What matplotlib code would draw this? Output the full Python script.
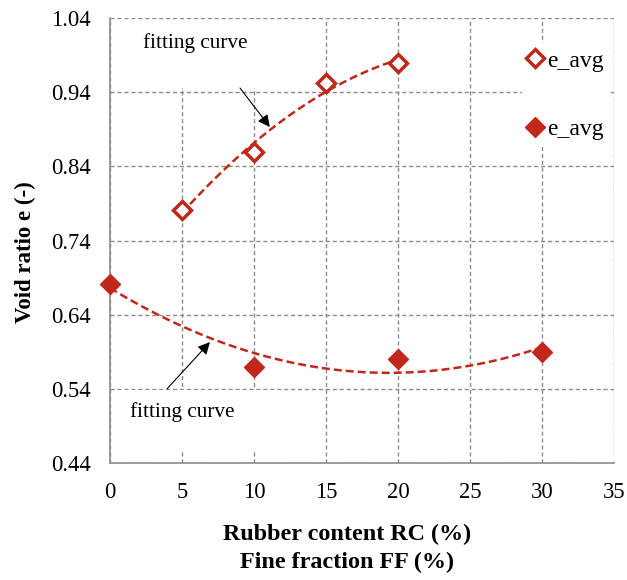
import numpy as np
import matplotlib
matplotlib.use("Agg")
import matplotlib.pyplot as plt
from matplotlib.patches import Rectangle

# Data
x_open = [5, 10, 15, 20]
e_open = [0.781, 0.860, 0.952, 0.980]
x_fill = [0, 10, 20, 30]
e_fill = [0.682, 0.570, 0.580, 0.590]
x_ticks = [0, 5, 10, 15, 20, 25, 30, 35]
y_ticks = [0.44, 0.54, 0.64, 0.74, 0.84, 0.94, 1.04]
label_open = "e_avg"
label_fill = "e_avg"

red = "#C0281C"
grid_c = "#8c8c8c"

plt.rcParams['font.family'] = ['Liberation Serif', 'DejaVu Serif']

W, H = 627, 580
fig = plt.figure(figsize=(W/100, H/100), dpi=100)
ax = fig.add_axes([110/W, 1-463/H, (614-110)/W, (463-18)/H])

ax.set_xlim(0, 35)
ax.set_ylim(0.44, 1.04)
ax.set_xticks(x_ticks)
ax.set_yticks(y_ticks)
ax.set_yticklabels([f"{v:.2f}" for v in y_ticks])
ax.tick_params(length=0, labelsize=16.3, pad=14)
ax.grid(True, color=grid_c, linestyle=(0, (3, 2)), linewidth=1)
ax.set_axisbelow(True)
for s in ['top', 'right']:
    ax.spines[s].set_visible(False)
for s in ['left', 'bottom']:
    ax.spines[s].set_color(grid_c)
    ax.spines[s].set_linewidth(1.2)
    ax.spines[s].set_zorder(2.5)

# white boxes behind annotation texts (cover grid)
ax.add_patch(Rectangle((1.04, 0.9456), 10.76 - 1.04, 1.0346 - 0.9456,
                       fc='white', ec='none', zorder=1.5))
ax.add_patch(Rectangle((0.35, 0.456), 11.8 - 0.35, 0.539 - 0.456,
                       fc='white', ec='none', zorder=1.5))

# fitting curves
p1 = np.polyfit(x_open, e_open, 2)
xx1 = np.linspace(min(x_open), max(x_open), 100)
ax.plot(xx1, np.polyval(p1, xx1), color=red, linestyle=(0, (3.2, 1.6)), lw=1.8, zorder=3)
p2 = np.polyfit(x_fill, e_fill, 2)
xx2 = np.linspace(min(x_fill), max(x_fill), 100)
ax.plot(xx2, np.polyval(p2, xx2), color=red, linestyle=(0, (3.2, 1.6)), lw=1.8, zorder=3)

h1, = ax.plot(x_open, e_open, linestyle='none', marker='D', markersize=9,
              markerfacecolor='white', markeredgecolor=red, markeredgewidth=2.5,
              label=label_open, zorder=4, clip_on=False)
h2, = ax.plot(x_fill, e_fill, linestyle='none', marker='D', markersize=10,
              markerfacecolor=red, markeredgecolor=red, label=label_fill,
              zorder=4, clip_on=False)

leg = ax.legend(handles=[h1, h2], loc='upper left',
                bbox_to_anchor=((522-110)/504, 1-(43-18)/445),
                frameon=True, fontsize=17, labelspacing=2.0, handlelength=0.5,
                handletextpad=0.26, borderaxespad=0, borderpad=0.3)
leg.get_frame().set_facecolor('white')
leg.get_frame().set_edgecolor('none')
leg.get_frame().set_alpha(1)
leg.set_zorder(5)

# annotations
ax.text(2.29, 1.006, "fitting curve", fontsize=15.3, ha='left', va='center', zorder=6)
ax.annotate("", xy=(11.1, 0.893), xytext=(9.03, 0.9456),
            arrowprops=dict(arrowstyle='-|>', color='black', lw=0.8,
                            mutation_scale=18, shrinkA=0, shrinkB=0), zorder=6)
ax.text(1.39, 0.5092, "fitting curve", fontsize=15.3, ha='left', va='center', zorder=6)
ax.annotate("", xy=(6.94, 0.603), xytext=(3.96, 0.54),
            arrowprops=dict(arrowstyle='-|>', color='black', lw=0.8,
                            mutation_scale=18, shrinkA=0, shrinkB=0), zorder=6)

fig.text(347/W, 1-534/H, "Rubber content RC (%)", ha='center', va='center',
         fontsize=17.4, fontweight='bold')
fig.text(347/W, 1-562/H, "Fine fraction FF (%)", ha='center', va='center',
         fontsize=17.4, fontweight='bold')
fig.text(25/W, 1-252/H, "Void ratio e (-)", ha='center', va='center',
         fontsize=16.5, fontweight='bold', rotation=90)

fig.savefig("out.png", dpi=100)
